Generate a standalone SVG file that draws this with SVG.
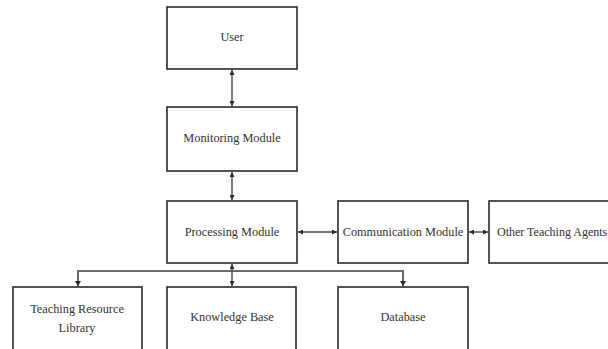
<svg xmlns="http://www.w3.org/2000/svg" width="608" height="349" viewBox="0 0 608 349">
<defs>
<style>
.box{fill:#fff;stroke:#2a2a2a;stroke-width:1.6}
.lbl{font-family:"Liberation Serif","Times New Roman",serif;font-size:12.3px;fill:#333;text-anchor:middle}
.con{fill:none;stroke:#4a4a4a;stroke-width:1.4}
.bus{fill:none;stroke:#6a6a6a;stroke-width:2}
</style>
<marker id="ah" viewBox="0 0 10 10" refX="10" refY="5" markerWidth="5" markerHeight="5" orient="auto-start-reverse" markerUnits="userSpaceOnUse">
<path d="M0,0 L10,5 L0,10 z" fill="#2a2a2a"/>
</marker>
</defs>
<rect width="608" height="349" fill="#fff"/>
<g id="connectors">
<line class="con" x1="232" y1="70" x2="232" y2="106" marker-start="url(#ah)" marker-end="url(#ah)"/>
<line class="con" x1="232" y1="172" x2="232" y2="200" marker-start="url(#ah)" marker-end="url(#ah)"/>
<line class="con" x1="298" y1="232" x2="337" y2="232" marker-start="url(#ah)" marker-end="url(#ah)"/>
<line class="con" x1="469" y1="232" x2="488" y2="232" marker-start="url(#ah)" marker-end="url(#ah)"/>
<polyline class="bus" points="78,286 78,271 403,271 403,286"/>
<line class="con" x1="232" y1="264" x2="232" y2="286" marker-start="url(#ah)" marker-end="url(#ah)"/>
<path d="M75,281 L78,286 L81,281 z" fill="#2a2a2a"/>
<path d="M400,281 L403,286 L406,281 z" fill="#2a2a2a"/>
</g>
<g id="user"><rect class="box" x="167" y="7" width="130" height="62"/><text class="lbl" x="232" y="41">User</text></g>
<g id="monitoring"><rect class="box" x="167" y="107" width="130" height="64"/><text class="lbl" x="232" y="142">Monitoring Module</text></g>
<g id="processing"><rect class="box" x="167" y="201" width="130" height="62"/><text class="lbl" x="232" y="236">Processing Module</text></g>
<g id="communication"><rect class="box" x="338" y="201" width="130" height="62"/><text class="lbl" x="403" y="236">Communication Module</text></g>
<g id="other"><rect class="box" x="489" y="201" width="130" height="62"/><text class="lbl" x="497" y="236" style="text-anchor:start;font-size:12px">Other Teaching Agents</text></g>
<g id="library"><rect class="box" x="13" y="287" width="129" height="70"/><text class="lbl" x="77" y="313">Teaching Resource</text><text class="lbl" x="77" y="332">Library</text></g>
<g id="knowledge"><rect class="box" x="167" y="287" width="129" height="70"/><text class="lbl" x="232" y="321">Knowledge Base</text></g>
<g id="database"><rect class="box" x="338" y="287" width="130" height="70"/><text class="lbl" x="403" y="321">Database</text></g>
</svg>
